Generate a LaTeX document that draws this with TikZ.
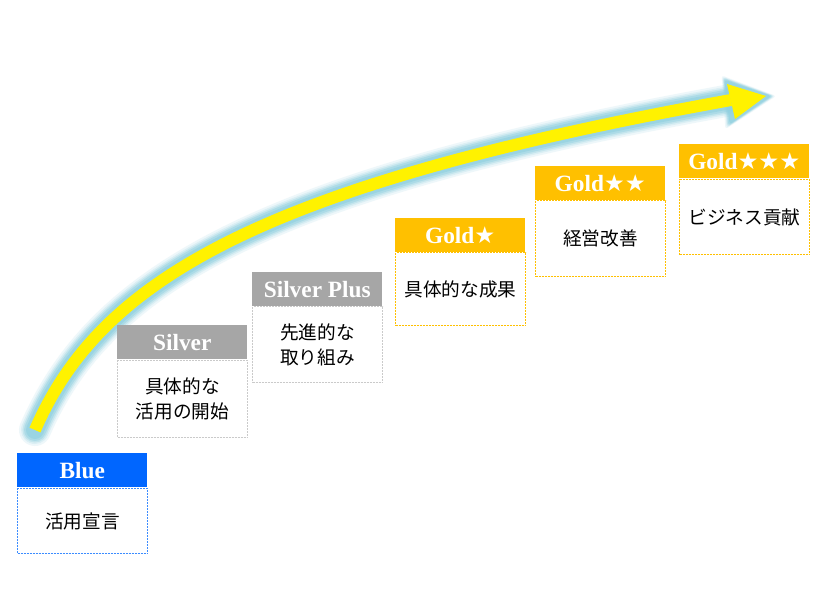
\documentclass[tikz,border=0pt]{standalone}
\usepackage{fontspec}
\newfontfamily\jp{Noto Sans CJK JP}
\newfontfamily\sym{DejaVu Sans}
\setmainfont{Liberation Serif}
\usetikzlibrary{arrows.meta,positioning}
\definecolor{bluehdr}{HTML}{0066FF}
\definecolor{blueline}{HTML}{3C8CFF}
\definecolor{silverhdr}{HTML}{A6A6A6}
\definecolor{goldhdr}{HTML}{FFC000}
\definecolor{glow}{HTML}{8FD0E0}
\newcommand{\stars}[1]{{\sym\mdseries #1}}
\begin{document}
\begin{tikzpicture}[x=0.75pt,y=-0.75pt,
  hdr/.style={minimum width=97.5pt,minimum height=25.5pt,inner sep=0pt,anchor=north west,text=white,font=\bfseries\fontsize{17.5}{19}\selectfont},
  bodybox/.style={minimum width=97.5pt,inner sep=0pt,anchor=north west,dash pattern=on 1.5pt off 0.75pt,line width=0.9pt,fill=white,align=center,font=\jp\fontsize{14}{18.5}\selectfont},
]
\useasboundingbox (0,0) rectangle (820,615);
\fill[white] (0,0) rectangle (820,615);
% arrow glow
\foreach \w/\o in {32/0.15,28/0.2,25/0.3,22/0.45,18/0.6}{
  \draw[glow,opacity=\o,line width=\w*0.75pt,line cap=round] (35,430) .. controls (100,280) and (260,185) .. (731,100);
  \fill[glow,opacity=\o,rounded corners=2pt] (728-\w*0.2,85-\w*0.3) -- (765+\w*0.35,96) -- (735-\w*0.3,118+\w*0.35) -- cycle;
}
\draw[yellow,line width=9pt] (35,430) .. controls (100,280) and (260,185) .. (731,100);
\fill[yellow] (727,84) -- (766,96) -- (735,119) -- cycle;
% boxes
\node[hdr,fill=bluehdr] (h1) at (17,453) {Blue};
\node[bodybox,draw=blueline,minimum height=48.75pt] (b1) at (17,488) {活用宣言};
\node[hdr,fill=silverhdr] (h2) at (117,325) {Silver};
\node[bodybox,draw=silverhdr!60,minimum height=57.75pt] (b2) at (117,360) {具体的な\\活用の開始};
\node[hdr,fill=silverhdr] (h3) at (252,272) {Silver Plus};
\node[bodybox,draw=silverhdr!60,minimum height=57pt] (b3) at (252,306) {先進的な\\取り組み};
\node[hdr,fill=goldhdr] (h4) at (395,218) {Gold\stars{★}};
\node[bodybox,draw=goldhdr,minimum height=54.75pt] (b4) at (395,252) {具体的な成果};
\node[hdr,fill=goldhdr] (h5) at (535,166) {Gold\stars{★★}};
\node[bodybox,draw=goldhdr,minimum height=57pt] (b5) at (535,200) {経営改善};
\node[hdr,fill=goldhdr] (h6) at (679,144) {Gold\stars{★★★}};
\node[bodybox,draw=goldhdr,minimum height=56.25pt] (b6) at (679,179) {ビジネス貢献};
\end{tikzpicture}
\end{document}
